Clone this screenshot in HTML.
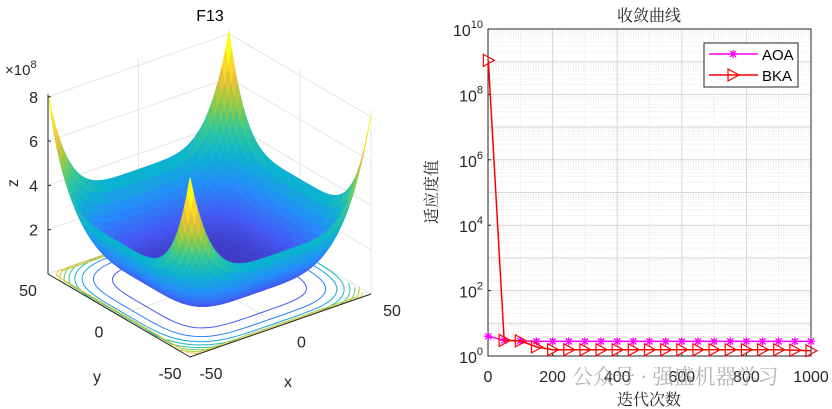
<!DOCTYPE html>
<html><head><meta charset="utf-8"><style>
html,body{margin:0;padding:0;background:#fff;}
svg{display:block;font-family:"Liberation Sans",sans-serif;}
.cjk{font-family:"Liberation Serif","Noto Serif CJK SC",serif;}
</style></head><body>
<svg id="fig" width="832" height="409" viewBox="0 0 832 409" xmlns="http://www.w3.org/2000/svg">
<g id="left"></g>
<g id="right"></g>
</svg>
<script>
// ---------- Convergence chart data ----------
const iterations = [1,50,100,150,200,250,300,350,400,450,500,550,600,650,700,750,800,850,900,950,1000];
const aoaValues = [4.0,3.0,2.9,2.8,2.8,2.8,2.8,2.8,2.8,2.8,2.8,2.8,2.8,2.8,2.8,2.8,2.8,2.8,2.8,2.8,2.8];
const bkaValues = [1.1e9,3.0,2.9,1.9,1.55,1.55,1.55,1.55,1.55,1.55,1.55,1.55,1.55,1.55,1.55,1.55,1.55,1.55,1.55,1.5,1.45];
const xTicks = [0,200,400,600,800,1000];
const yTickExps = [0,2,4,6,8,10];
// surface tick data
const zTicks = [2,4,6,8];
const xyTicks = [-50,0,50];

const NS='http://www.w3.org/2000/svg';
function mk(tag,attrs,parent,text){const e=document.createElementNS(NS,tag);for(const k in attrs)e.setAttribute(k,attrs[k]);if(text!==undefined)e.textContent=text;parent.appendChild(e);return e;}

// ---------- Right chart ----------
const R=document.getElementById('right');
const X0=488,X1=811,Y0=356,Y1=29;
const sx=v=>X0+(v-0)/(1000-0)*(X1-X0);
const sy=v=>Y0-(Math.log10(v)-0)/10*(Y0-Y1);
mk('rect',{x:X0,y:Y1,width:X1-X0,height:Y0-Y1,fill:'#fff'},R);
const grid=mk('g',{},R);


for(let e=0;e<10;e++){for(let m=2;m<=9;m++){const y=sy(m*Math.pow(10,e));mk('line',{x1:X0,x2:X1,y1:y,y2:y,stroke:'#e0e0e0','stroke-width':0.8,'stroke-dasharray':'1,1.5'},grid);}}
for(let x=100;x<1000;x+=100){if(x%200){mk('line',{x1:sx(x),x2:sx(x),y1:Y1,y2:Y0,stroke:'#e0e0e0','stroke-width':0.8,'stroke-dasharray':'1,1.5'},grid);}}
for(let e=1;e<10;e++){const y=sy(Math.pow(10,e));mk('line',{x1:X0,x2:X1,y1:y,y2:y,stroke:'#d8d8d8','stroke-width':1},grid);}
xTicks.forEach(t=>{if(t>0&&t<1000)mk('line',{x1:sx(t),x2:sx(t),y1:Y1,y2:Y0,stroke:'#d8d8d8','stroke-width':1},grid);});
mk('rect',{x:X0,y:Y1,width:X1-X0,height:Y0-Y1,fill:'none',stroke:'#262626','stroke-width':1},R);
xTicks.forEach(t=>{mk('line',{x1:sx(t),x2:sx(t),y1:Y0,y2:Y0-3,stroke:'#262626'},R);
 const tx=mk('text',{x:sx(t),y:Y0+26,'text-anchor':'middle','font-size':16,fill:'#262626'},R,String(t));
 });
yTickExps.forEach(e=>{const y=sy(Math.pow(10,e));mk('line',{x1:X0,x2:X0+3,y1:y,y2:y,stroke:'#262626'},R);
 const tx=mk('text',{x:X0-5,y:y+7,'text-anchor':'end','font-size':16,fill:'#262626'},R);
 
 mk('tspan',{},tx,'10');mk('tspan',{dy:-8,'font-size':11},tx,String(e));});
function series(vals,color,marker,name){
 const g=mk('g',{},R);
 mk('polyline',{points:iterations.map((x,i)=>sx(x)+','+sy(vals[i])).join(' '),fill:'none',stroke:color,'stroke-width':1.5},g);
 iterations.forEach((x,i)=>drawMarker(g,sx(x),sy(vals[i]),color,marker));}
function drawMarker(g,x,y,c,m){
 if(m==='star'){mk('path',{d:`M${x-4},${y}H${x+4}M${x},${y-4}V${y+4}M${x-3},${y-3}L${x+3},${y+3}M${x-3},${y+3}L${x+3},${y-3}`,stroke:c,'stroke-width':1.3},g);}
 else{mk('path',{d:`M${x-5},${y-6}L${x+6},${y}L${x-5},${y+6}Z`,fill:'none',stroke:c,'stroke-width':1.2},g);}}
series(aoaValues,'#ff00ff','star','aoa-series');
series(bkaValues,'#ff0000','tri','bka-series');
const lg=mk('g',{},R);
mk('rect',{x:704,y:43,width:94,height:44,fill:'#fff',stroke:'#262626','stroke-width':1},lg);
mk('line',{x1:709,x2:758,y1:54,y2:54,stroke:'#ff00ff','stroke-width':1.5},lg);drawMarker(lg,733,54,'#ff00ff','star');
mk('text',{x:762,y:60,'font-size':15,fill:'#000'},lg,'AOA');
mk('line',{x1:709,x2:758,y1:75,y2:75,stroke:'#ff0000','stroke-width':1.5},lg);drawMarker(lg,733,75,'#ff0000','tri');
mk('text',{x:762,y:81,'font-size':15,fill:'#000'},lg,'BKA');
let t=mk('text',{x:649,y:21,'text-anchor':'middle','font-size':16,fill:'#262626',class:'cjk'},R,'收敛曲线');

t=mk('text',{x:649,y:405,'text-anchor':'middle','font-size':16,fill:'#262626',class:'cjk'},R,'迭代次数');

t=mk('text',{x:0,y:0,transform:'translate(437,192) rotate(-90)','text-anchor':'middle','font-size':16,fill:'#262626',class:'cjk'},R,'适应度值');

t=mk('text',{x:572,y:384,'font-size':21,fill:'#9a9a9a','fill-opacity':0.75,class:'cjk'},R,'公众号 · 强盛机器学习');


// ---------- Left 3D surface ----------
const L=document.getElementById('left');
const P=(x,y,z)=>[209.5+x*1.81+y*-1.42, 284+x*-0.63+y*-0.83+z*-22.15];
const zf=(x,y)=>{const u=Math.pow(Math.abs(x/50),4.5),v=Math.pow(Math.abs(y/50),4.5);return 0.4+2.9*(u+v)+1.9*u*v;};
const cmap=[[0.24,0.15,0.66],[0.27,0.35,0.95],[0.15,0.55,0.98],[0.05,0.70,0.82],[0.20,0.78,0.60],[0.60,0.80,0.25],[0.98,0.75,0.22],[0.98,0.98,0.08]];
function col(f){f=Math.max(0,Math.min(1,f))*(cmap.length-1);const i=Math.min(cmap.length-2,Math.floor(f)),r=f-i;const c=cmap[i].map((a,k)=>Math.round(255*(a+(cmap[i+1][k]-a)*r)));return `rgb(${c[0]},${c[1]},${c[2]})`;}
const pt=a=>a.map(p=>p[0].toFixed(1)+','+p[1].toFixed(1)).join(' ');
const bg=mk('g',{stroke:'#e6e6e6','stroke-width':1,fill:'none'},L);

[0,2,4,6,8].forEach(z=>{mk('polyline',{points:pt([P(-50,50,z),P(50,50,z),P(50,-50,z)])},bg);});
[-50,0,50].forEach(v=>{mk('polyline',{points:pt([P(v,50,0),P(v,50,8.3)])},bg);mk('polyline',{points:pt([P(50,v,0),P(50,v,8.3)])},bg);
 mk('polyline',{points:pt([P(v,50,0),P(v,-50,0)])},bg);mk('polyline',{points:pt([P(-50,v,0),P(50,v,0)])},bg);});
const cg=mk('g',{fill:'none','stroke-width':1},L);

[1,1.8,2.6,3.3,4.0,4.7,5.4,6.1].forEach(lv=>{const pts=[];for(let a=0;a<=360;a+=4){const th=a*Math.PI/180,c=Math.cos(th),s=Math.sin(th);
 let lo=0,hi=1.5;for(let k=0;k<30;k++){const m=(lo+hi)/2;if(zf(50*m*c,50*m*s)<lv)lo=m;else hi=m;}
 const x=50*lo*c,y=50*lo*s;if(Math.abs(x)<=50&&Math.abs(y)<=50)pts.push(P(x,y,0));}
 mk('polyline',{points:pt(pts),stroke:col(lv/7.2)},cg);});
const sg=mk('g',{},L);
const N=50,st=100/N;const quads=[];
for(let i=0;i<N;i++)for(let j=0;j<N;j++){const x=-50+i*st,y=-50+j*st;quads.push([x,y]);}
quads.sort((a,b)=>(b[0]+b[1])-(a[0]+a[1]));
quads.forEach(([x,y])=>{const zs=[zf(x,y),zf(x+st,y),zf(x+st,y+st),zf(x,y+st)];const zm=(zs[0]+zs[1]+zs[2]+zs[3])/4;const c=col(zm/7.2);
 mk('polygon',{points:pt([P(x,y,zs[0]),P(x+st,y,zs[1]),P(x+st,y+st,zs[2]),P(x,y+st,zs[3])]),fill:c,stroke:c,'stroke-width':0.8},sg);});
const ag=mk('g',{stroke:'#262626','stroke-width':1,fill:'none'},L);
mk('polyline',{points:pt([P(-50,50,0),P(-50,50,8.1)])},ag);
mk('polyline',{points:pt([P(-50,50,0),P(-50,-50,0),P(50,-50,0)])},ag);
zTicks.forEach(z=>{const p=P(-50,50,z);mk('line',{x1:p[0],y1:p[1],x2:p[0]+3,y2:p[1]},ag);
 const tx=mk('text',{x:p[0]-10,y:p[1]+6,'text-anchor':'end','font-size':16,fill:'#262626',stroke:'none'},L,String(z));
 });
xyTicks.forEach(v=>{let p=P(-50,v,0);const ty=mk('text',{x:p[0]-20,y:p[1]+22,'text-anchor':'middle','font-size':16,fill:'#262626'},L,String(v));
 
 p=P(v,-50,0);const tx=mk('text',{x:p[0]+21,y:p[1]+22,'text-anchor':'middle','font-size':16,fill:'#262626'},L,String(v));
 });
t=mk('text',{x:5,y:75,'font-size':15,fill:'#262626'},L);mk('tspan',{},t,'×10');mk('tspan',{dy:-7,'font-size':11},t,'8');

t=mk('text',{x:0,y:0,transform:'translate(18,183) rotate(-90)','text-anchor':'middle','font-size':16,fill:'#262626'},L,'z');

t=mk('text',{x:97,y:382,'text-anchor':'middle','font-size':16,fill:'#262626'},L,'y');

t=mk('text',{x:288,y:387,'text-anchor':'middle','font-size':16,fill:'#262626'},L,'x');

t=mk('text',{x:210,y:21,'text-anchor':'middle','font-size':16,fill:'#000'},L,'F13');

</script>
</body></html>
